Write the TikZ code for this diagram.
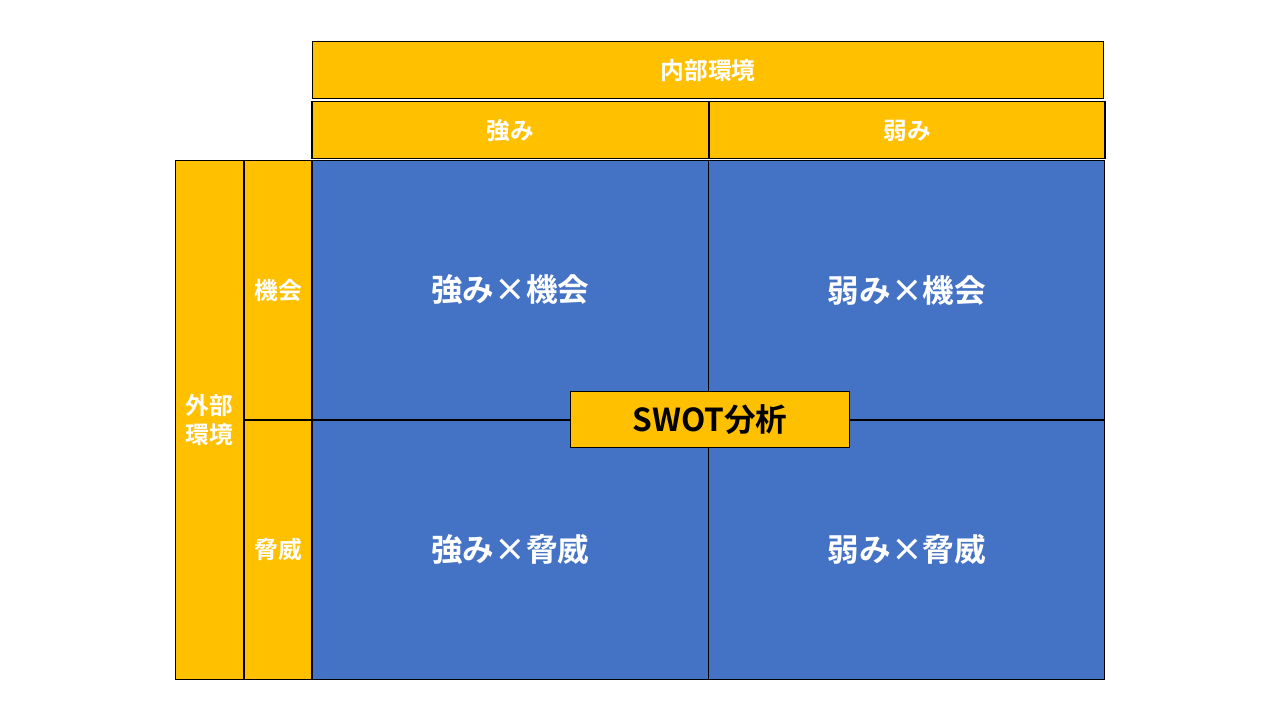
\documentclass[tikz,border=0pt]{standalone}
\usepackage{fontspec}
\setmainfont{Noto Sans CJK JP}[BoldFont={Noto Sans CJK JP Bold}]
\usetikzlibrary{positioning}
\definecolor{swotorange}{HTML}{FFC000}
\definecolor{swotblue}{HTML}{4472C4}
\newcommand{\smalllabel}{\bfseries\fontsize{13.5}{16.5}\selectfont}
\newcommand{\biglabel}{\bfseries\fontsize{18}{21}\selectfont}

\begin{document}
\begin{tikzpicture}[x=0.02cm, y=-0.02cm,
		headbox/.style={draw=black, line width=0.6pt, fill=swotorange, text=white, inner sep=0pt, align=center, font=\smalllabel},
		cellbox/.style={draw=black, line width=0.6pt, fill=swotblue, text=white, inner sep=0pt, minimum width=7.92cm, minimum height=5.18cm, font=\biglabel},
		titlebox/.style={draw=black, line width=0.6pt, fill=swotorange, text=black, inner sep=0pt, minimum width=5.58cm, minimum height=1.12cm, font=\biglabel}]
		%%%%% START %%%%%
		
		\useasboundingbox (0, 0) rectangle (1280, 720);
		
		\node[headbox, minimum width=15.84cm, minimum height=1.14cm] (inner) at (708, 70.2) {内部環境};
		\node[headbox, minimum width=7.93cm, minimum height=1.14cm] (strength) at (510.2, 130.4) {強み};
		\node[headbox, minimum width=7.92cm, minimum height=1.14cm] (weakness) at (907, 130.4) {弱み};
		
		\node[headbox, minimum width=1.36cm, minimum height=10.38cm] (outer) at (209.5, 420) {外部\\環境};
		\node[headbox, minimum width=1.35cm, minimum height=5.18cm] (chance) at (278.2, 290) {機会};
		\node[headbox, minimum width=1.35cm, minimum height=5.19cm] (threat) at (278.2, 549.8) {脅威};
		
		\node[cellbox] (so) at (510.2, 290) {強み×機会};
		\node[cellbox] (wo) at (906.8, 290) {弱み×機会};
		\node[cellbox] (st) at (510.2, 549.8) {強み×脅威};
		\node[cellbox] (wt) at (906.8, 549.8) {弱み×脅威};
		
		\node[titlebox] (swot) at (710, 419.5) {SWOT分析};
		
		%%%%% END %%%%%
	\end{tikzpicture}
\end{document}
